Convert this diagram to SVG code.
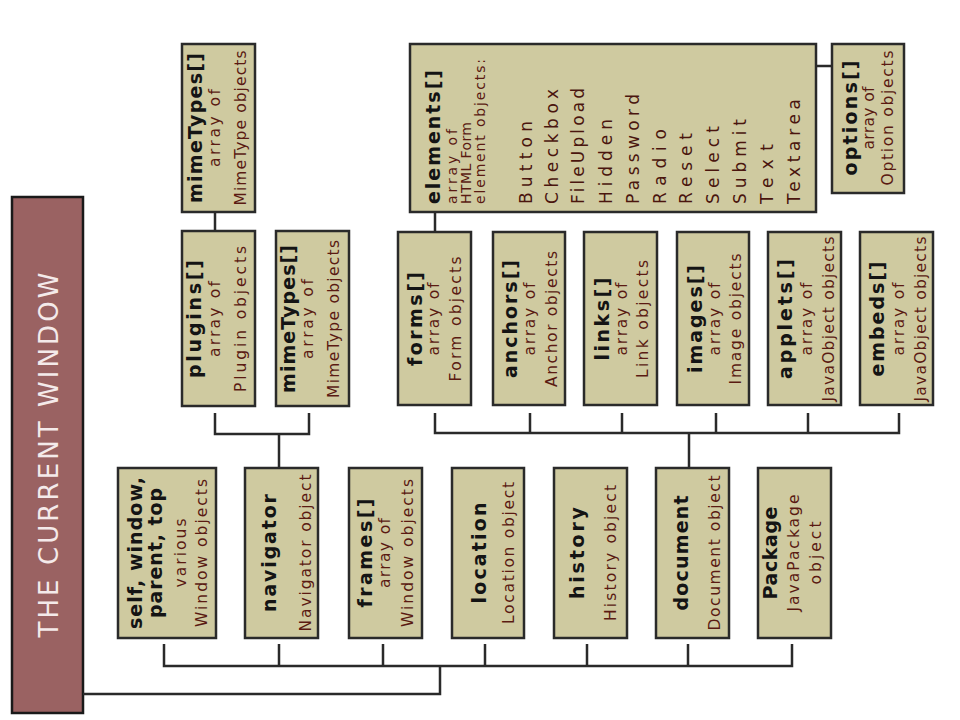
<svg xmlns="http://www.w3.org/2000/svg" width="960" height="720" viewBox="0 0 960 720">
<style>
.box{fill:#cfcaa0;stroke:#2a2a2a;stroke-width:2.5}
.bar{fill:#9a6262;stroke:#1a1a1a;stroke-width:2.5}
text{font-family:"DejaVu Sans","Liberation Sans",sans-serif}
.t{font-weight:bold;font-size:19px;fill:#141414;text-anchor:middle}
.s{font-size:15.5px;fill:#5a1a12;text-anchor:middle}
.e{font-size:14px;fill:#5a1a12}
.l{font-size:17px;fill:#4a150e}
.et{font-weight:bold;font-size:19px;fill:#141414}
.bt{font-size:26px;fill:#f4eaea;text-anchor:middle}
.conn path{stroke:#2a2a2a;stroke-width:2.5;fill:none}
</style>
<rect width="960" height="720" fill="#ffffff"/>
<g id="current-window">
<rect class="bar" x="12" y="197" width="71" height="516"/>
<text class="bt" transform="translate(58,455) rotate(-90)" textLength="365">THE CURRENT WINDOW</text>
</g>
<g class="conn" id="connectors">
<path d="M83,694 H440 V666"/>
<path d="M164,644 V666 H792 V644"/>
<path d="M279,644 V666 M383,644 V666 M485,644 V666 M587,644 V666 M688,644 V666"/>
<path d="M279,468 V434"/>
<path d="M215,413 V434 H309 V413"/>
<path d="M215,212 V231"/>
<path d="M435,413 V433 H899 V413"/>
<path d="M530,413 V433 M622,413 V433 M716,413 V433 M808,413 V433"/>
<path d="M689,433 V468"/>
<path d="M435,212 V232"/>
<path d="M832,66 H713 V112"/>
</g>
<g id="mimeTypes-top">
<rect class="box" x="182" y="44" width="73" height="168"/>
<text class="t" transform="translate(202,128) rotate(-90)" textLength="150">mimeTypes[]</text>
<text class="s" transform="translate(220,128) rotate(-90)" textLength="78">array of</text>
<text class="s" transform="translate(246,128) rotate(-90)" textLength="155">MimeType objects</text>
</g>
<g id="plugins">
<rect class="box" x="182" y="231" width="73" height="175"/>
<text class="t" transform="translate(201,319) rotate(-90)" textLength="118">plugins[]</text>
<text class="s" transform="translate(220,319) rotate(-90)" textLength="76">array of</text>
<text class="s" transform="translate(246,319) rotate(-90)" textLength="146">Plugin objects</text>
</g>
<g id="mimeTypes">
<rect class="box" x="276" y="231" width="73" height="175"/>
<text class="t" transform="translate(295,319) rotate(-90)" textLength="148">mimeTypes[]</text>
<text class="s" transform="translate(313,319) rotate(-90)" textLength="80">array of</text>
<text class="s" transform="translate(339,319) rotate(-90)" textLength="158">MimeType objects</text>
</g>
<g id="elements">
<rect class="box" x="410" y="44" width="406" height="168"/>
<text class="et" transform="translate(440,204) rotate(-90)" textLength="134">elements[]</text>
<text class="e" transform="translate(457,204) rotate(-90)" textLength="75">array of</text>
<text class="e" transform="translate(471,204) rotate(-90)" textLength="82">HTML Form</text>
<text class="e" transform="translate(485,204) rotate(-90)" textLength="145">element objects:</text>
<text class="l" transform="translate(532,204) rotate(-90)" textLength="83">Button</text>
<text class="l" transform="translate(558,204) rotate(-90)" textLength="115">Checkbox</text>
<text class="l" transform="translate(584,204) rotate(-90)" textLength="116">FileUpload</text>
<text class="l" transform="translate(612,204) rotate(-90)" textLength="85">Hidden</text>
<text class="l" transform="translate(639,204) rotate(-90)" textLength="110">Password</text>
<text class="l" transform="translate(666,204) rotate(-90)" textLength="75">Radio</text>
<text class="l" transform="translate(692,204) rotate(-90)" textLength="71">Reset</text>
<text class="l" transform="translate(719,204) rotate(-90)" textLength="78">Select</text>
<text class="l" transform="translate(746,204) rotate(-90)" textLength="85">Submit</text>
<text class="l" transform="translate(773,204) rotate(-90)" textLength="60">Text</text>
<text class="l" transform="translate(800,204) rotate(-90)" textLength="105">Textarea</text>
</g>
<g id="options">
<rect class="box" x="832" y="44" width="72" height="149"/>
<text class="t" transform="translate(857,118) rotate(-90)" textLength="115">options[]</text>
<text class="s" transform="translate(874,118) rotate(-90)" textLength="63">array of</text>
<text class="s" transform="translate(893,118) rotate(-90)" textLength="135">Option objects</text>
</g>
<g id="forms">
<rect class="box" x="398" y="232" width="73" height="173"/>
<text class="t" transform="translate(422,319) rotate(-90)" textLength="94">forms[]</text>
<text class="s" transform="translate(439,319) rotate(-90)" textLength="73">array of</text>
<text class="s" transform="translate(461,319) rotate(-90)" textLength="125">Form objects</text>
</g>
<g id="anchors">
<rect class="box" x="493" y="232" width="72" height="173"/>
<text class="t" transform="translate(517,319) rotate(-90)" textLength="118">anchors[]</text>
<text class="s" transform="translate(535,319) rotate(-90)" textLength="73">array of</text>
<text class="s" transform="translate(557,319) rotate(-90)" textLength="136">Anchor objects</text>
</g>
<g id="links">
<rect class="box" x="584" y="232" width="73" height="173"/>
<text class="t" transform="translate(609,319) rotate(-90)" textLength="83">links[]</text>
<text class="s" transform="translate(627,319) rotate(-90)" textLength="73">array of</text>
<text class="s" transform="translate(648,319) rotate(-90)" textLength="118">Link objects</text>
</g>
<g id="images">
<rect class="box" x="677" y="232" width="72" height="173"/>
<text class="t" transform="translate(702,319) rotate(-90)" textLength="108">images[]</text>
<text class="s" transform="translate(720,319) rotate(-90)" textLength="73">array of</text>
<text class="s" transform="translate(741,319) rotate(-90)" textLength="131">Image objects</text>
</g>
<g id="applets">
<rect class="box" x="768" y="232" width="73" height="173"/>
<text class="t" transform="translate(792,319) rotate(-90)" textLength="120">applets[]</text>
<text class="s" transform="translate(812,319) rotate(-90)" textLength="73">array of</text>
<text class="s" transform="translate(834,319) rotate(-90)" textLength="165">JavaObject objects</text>
</g>
<g id="embeds">
<rect class="box" x="860" y="232" width="73" height="173"/>
<text class="t" transform="translate(884,319) rotate(-90)" textLength="115">embeds[]</text>
<text class="s" transform="translate(904,319) rotate(-90)" textLength="73">array of</text>
<text class="s" transform="translate(926,319) rotate(-90)" textLength="165">JavaObject objects</text>
</g>
<g id="self-window">
<rect class="box" x="118" y="468" width="98" height="170"/>
<text class="t" transform="translate(142,553) rotate(-90)" textLength="152">self, window,</text>
<text class="t" transform="translate(162,553) rotate(-90)" textLength="130">parent, top</text>
<text class="s" transform="translate(186,553) rotate(-90)" textLength="69">various</text>
<text class="s" transform="translate(207,553) rotate(-90)" textLength="148">Window objects</text>
</g>
<g id="navigator">
<rect class="box" x="245" y="468" width="73" height="170"/>
<text class="t" transform="translate(276,553) rotate(-90)" textLength="118">navigator</text>
<text class="s" transform="translate(311,553) rotate(-90)" textLength="157">Navigator object</text>
</g>
<g id="frames">
<rect class="box" x="349" y="468" width="73" height="170"/>
<text class="t" transform="translate(372,553) rotate(-90)" textLength="109">frames[]</text>
<text class="s" transform="translate(390,553) rotate(-90)" textLength="70">array of</text>
<text class="s" transform="translate(413,553) rotate(-90)" textLength="148">Window objects</text>
</g>
<g id="location">
<rect class="box" x="452" y="468" width="72" height="170"/>
<text class="t" transform="translate(486,553) rotate(-90)" textLength="101">location</text>
<text class="s" transform="translate(514,553) rotate(-90)" textLength="142">Location object</text>
</g>
<g id="history">
<rect class="box" x="554" y="468" width="73" height="170"/>
<text class="t" transform="translate(584,553) rotate(-90)" textLength="92">history</text>
<text class="s" transform="translate(616,553) rotate(-90)" textLength="136">History object</text>
</g>
<g id="document">
<rect class="box" x="656" y="468" width="73" height="170"/>
<text class="t" transform="translate(688,553) rotate(-90)" textLength="115">document</text>
<text class="s" transform="translate(720,553) rotate(-90)" textLength="155">Document object</text>
</g>
<g id="Package">
<rect class="box" x="758" y="468" width="73" height="170"/>
<text class="t" transform="translate(777,553) rotate(-90)" textLength="93">Package</text>
<text class="s" transform="translate(799,553) rotate(-90)" textLength="117">JavaPackage</text>
<text class="s" transform="translate(821,553) rotate(-90)" textLength="63">object</text>
</g>
</svg>
